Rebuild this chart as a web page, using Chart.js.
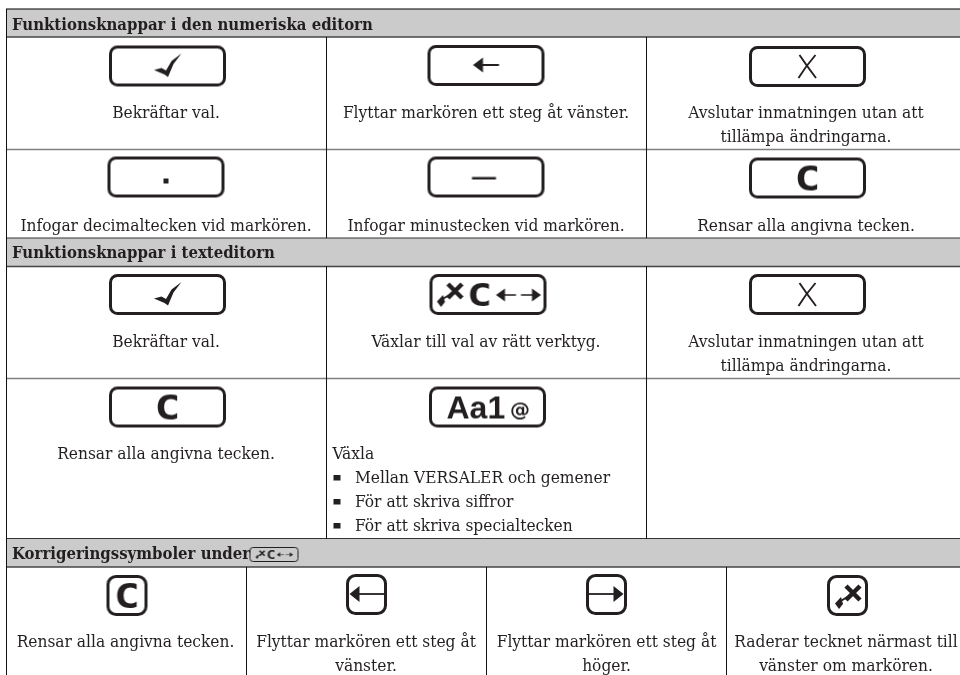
<!DOCTYPE html>
<html lang="sv">
<head>
<meta charset="utf-8">
<title>Funktionsknappar</title>
<script src="https://cdn.jsdelivr.net/npm/chart.js@4"></script>
<style>
  html, body { margin: 0; background: #fff; }
  canvas { display: block; }
</style>
</head>
<body>
<canvas id="tabell" width="960" height="675"></canvas>
<script>
// ===== INNEHÅLL =====
const sectionTitles = [
  "Funktionsknappar i den numeriska editorn",
  "Funktionsknappar i texteditorn",
  "Korrigeringssymboler under"
];
const captions = [
  ["Bekräftar val."],
  ["Flyttar markören ett steg åt vänster."],
  ["Avslutar inmatningen utan att", "tillämpa ändringarna."],
  ["Infogar decimaltecken vid markören."],
  ["Infogar minustecken vid markören."],
  ["Rensar alla angivna tecken."],
  ["Bekräftar val."],
  ["Växlar till val av rätt verktyg."],
  ["Avslutar inmatningen utan att", "tillämpa ändringarna."],
  ["Rensar alla angivna tecken."],
  ["Rensar alla angivna tecken."],
  ["Flyttar markören ett steg åt", "vänster."],
  ["Flyttar markören ett steg åt", "höger."],
  ["Raderar tecknet närmast till", "vänster om markören."]
];
const listHeading = "Växla";
const listItems = ["Mellan VERSALER och gemener", "För att skriva siffror", "För att skriva specialtecken"];

// ===== LAYOUT (tabellens enheter) =====
const bandTop = [9, 238, 538.5];
const bandBottom = [37, 266.5, 567];
const rowRules = [149.5, 378.5];
const sectionBaseline = [30, 258, 559];
const captionX = [166, 486, 806, 166, 486, 806, 166, 486, 806, 166, 125.5, 366, 606.5, 846];
const captionY = [118, 118, 118, 231, 231, 231, 347, 347, 347, 459, 647, 647, 647, 647];
const iconNames = ["check", "left", "cross", "dot", "minus", "clear", "check", "combo", "cross", "clear", "case",
  "clearSquare", "backSquare", "forwardSquare", "deleteSquare", "comboSmall"];
const iconX = [167.5, 486, 807.5, 166, 486, 807.5, 167.5, 488, 807.5, 167.5, 487.5, 127, 366.5, 606.5, 847.5, 274];
const iconY = [66, 65.5, 66.5, 177, 177, 178, 294.5, 294.5, 294.5, 407, 407, 595.5, 594.5, 594.5, 595.5, 554.5];
const ink = "#231f20";

// ===== IKONER =====
function arrowHead(c, x, y, dir, len, half) {
  c.beginPath();
  c.moveTo(x, y);
  c.lineTo(x + dir * len, y - half);
  c.lineTo(x + dir * len, y + half);
  c.closePath();
  c.fill();
}

function deleteGlyph(c, x, y) {
  // x,y = mitten av krysset
  c.lineWidth = 4.5;
  c.beginPath();
  c.moveTo(x - 7, y - 7); c.lineTo(x + 7, y + 7);
  c.moveTo(x + 7, y - 7); c.lineTo(x - 7, y + 7);
  c.stroke();
  c.lineWidth = 2;
  c.beginPath();
  c.moveTo(x - 4, y + 3); c.lineTo(x - 14, y + 9);
  c.stroke();
  c.beginPath();
  c.moveTo(x - 18, y + 10.5); c.lineTo(x - 12, y + 4); c.lineTo(x - 10, y + 11); c.lineTo(x - 14, y + 16);
  c.closePath();
  c.fill();
}

// breddad C, tjockare än typsnittets egen
function wideC(c, x, y, size) {
  c.save();
  c.translate(x, y);
  c.scale(1.3, 1);
  c.font = "bold " + size + "px 'DejaVu Sans Mono'";
  c.textAlign = "center";
  c.textBaseline = "alphabetic";
  c.fillText("C", 0, 0);
  c.restore();
}

function comboGlyph(c) {
  deleteGlyph(c, -33, -3.5);
  wideC(c, -8.5, 11.5, 32);
  c.lineWidth = 1.6;
  c.beginPath();
  c.moveTo(12, 0.5); c.lineTo(28, 0.5);
  c.moveTo(33, 0.5); c.lineTo(48, 0.5);
  c.stroke();
  arrowHead(c, 8, 0.5, 1, 9, 6.5);
  arrowHead(c, 53, 0.5, -1, 9, 6.5);
}

const iconGlyphs = {
  check(c) {
    c.beginPath();
    c.moveTo(-13.5, 4); c.lineTo(-6, 2); c.lineTo(-1.5, 4.5); c.lineTo(4, -5); c.lineTo(14, -12.5);
    c.lineTo(6, -2); c.lineTo(0.5, 11); c.lineTo(-3, 8.5);
    c.closePath();
    c.fill();
  },
  left(c) {
    c.lineWidth = 2;
    c.beginPath();
    c.moveTo(-6, -0.5); c.lineTo(13, -0.5);
    c.stroke();
    arrowHead(c, -13, -0.5, 1, 10, 7.5);
  },
  cross(c) {
    c.lineWidth = 1.9;
    c.beginPath();
    c.moveTo(-8, -11.5); c.quadraticCurveTo(-1, -1, 8.5, 11.5);
    c.moveTo(8, -11.5); c.quadraticCurveTo(-2, 0, -9, 11.5);
    c.stroke();
  },
  dot(c) { c.fillRect(-2.5, 1.5, 5, 5); },
  minus(c) { c.fillRect(-14, 0, 24, 2.5); },
  clear(c) { wideC(c, 0, 12, 33); },
  combo: comboGlyph,
  case(c) {
    c.textBaseline = "alphabetic";
    c.textAlign = "left";
    c.font = "bold 32px 'Liberation Sans'";
    c.fillText("Aa1", -41, 11.5);
    c.font = "bold 20px 'DejaVu Sans'";
    c.fillText("@", 22.5, 9.5);
  }
};

function makeIcon(name) {
  const square = name.endsWith("Square");
  const small = name === "comboSmall";
  const w = small ? 49 : square ? 41 : 117;
  const h = small ? 15 : 41;
  const sheet = document.createElement("canvas");
  sheet.width = w + 4;
  sheet.height = h + 4;
  const c = sheet.getContext("2d");
  c.translate(sheet.width / 2, sheet.height / 2);
  c.strokeStyle = ink;
  c.fillStyle = ink;
  c.lineWidth = small ? 1 : 3;
  c.beginPath();
  c.roundRect(-w / 2 + (small ? 0.5 : 1.5), -h / 2 + (small ? 0.5 : 1.5), w - (small ? 1 : 3), h - (small ? 1 : 3), small ? 3 : square ? 8 : 7);
  c.stroke();

  if (small) {
    c.scale(0.36, 0.36);
    comboGlyph(c);
  } else if (name === "clearSquare") {
    iconGlyphs.clear(c);
  } else if (name === "backSquare" || name === "forwardSquare") {
    if (name === "forwardSquare") c.scale(-1, 1);
    c.lineWidth = 1.8;
    c.beginPath();
    c.moveTo(-8, -0.5); c.lineTo(19, -0.5);
    c.stroke();
    arrowHead(c, -17, -0.5, 1, 10, 8);
  } else if (name === "deleteSquare") {
    deleteGlyph(c, 5.5, -2.5);
  } else {
    iconGlyphs[name](c);
  }
  return sheet;
}

// ===== TEXT =====
const tableText = {
  id: "tableText",
  afterDatasetsDraw(chart) {
    const { ctx, scales: { x, y } } = chart;
    const bodyFont = "17.2px 'DejaVu Serif Condensed', 'DejaVu Serif'";
    ctx.save();
    ctx.fillStyle = ink;
    ctx.textBaseline = "alphabetic";

    ctx.font = "bold 16.6px 'DejaVu Serif Condensed', 'DejaVu Serif'";
    ctx.textAlign = "left";
    sectionTitles.forEach((t, i) => ctx.fillText(t, x.getPixelForValue(12), y.getPixelForValue(sectionBaseline[i])));

    ctx.font = bodyFont;
    ctx.textAlign = "center";
    captions.forEach((lines, i) => {
      lines.forEach((line, n) => {
        ctx.fillText(line, x.getPixelForValue(captionX[i]), y.getPixelForValue(captionY[i] + n * 24));
      });
    });

    ctx.textAlign = "left";
    ctx.fillText(listHeading, x.getPixelForValue(332.5), y.getPixelForValue(459));
    listItems.forEach((item, i) => {
      const base = 483 + i * 24;
      ctx.fillText(item, x.getPixelForValue(355), y.getPixelForValue(base));
      ctx.fillRect(x.getPixelForValue(333.5), y.getPixelForValue(base - 8), 7, 5.5);
    });
    ctx.restore();
  }
};

// ===== DATASETS =====
const rule = (x1, y1, x2, y2, color, width) => ({
  data: [{ x: x1, y: y1 }, { x: x2, y: y2 }],
  showLine: true, pointRadius: 0, borderColor: color, borderWidth: width
});

const rules = [
  rule(6, 9, 960, 9, "#000", 1),
  rule(6.5, 9, 6.5, 675, "#111", 1),
  rule(326.5, 37, 326.5, 238, "#111", 1),
  rule(646.5, 37, 646.5, 238, "#111", 1),
  rule(326.5, 266.5, 326.5, 538.5, "#111", 1),
  rule(646.5, 266.5, 646.5, 538.5, "#111", 1),
  rule(246.5, 567, 246.5, 675, "#111", 1),
  rule(486.5, 567, 486.5, 675, "#111", 1),
  rule(726.5, 567, 726.5, 675, "#111", 1)
];
bandTop.forEach((v) => { if (v > 9) rules.push(rule(6.5, v, 960, v, "#333", 1)); });
bandBottom.forEach((v) => rules.push(rule(6.5, v, 960, v, "#444", 1.4)));
rowRules.forEach((v) => rules.push(rule(6.5, v, 960, v, "#808080", 1.5)));

const bands = bandTop.map((top, i) => ({
  data: [{ x: 6.5, y: top }, { x: 960, y: top }],
  showLine: true, pointRadius: 0, borderWidth: 0,
  fill: { value: bandBottom[i] },
  backgroundColor: "#cbcbcb"
}));

const icons = {
  data: iconNames.map((n, i) => ({ x: iconX[i], y: iconY[i] })),
  showLine: false,
  pointStyle: iconNames.map(makeIcon),
  pointRadius: 10
};

new Chart(document.getElementById("tabell"), {
  type: "scatter",
  data: { datasets: [icons, ...rules, ...bands] }, // första datasetet ritas överst
  options: {
    responsive: false,
    animation: false,
    devicePixelRatio: 1,
    layout: { padding: 0, autoPadding: false },
    plugins: { legend: { display: false }, tooltip: { enabled: false } },
    scales: {
      x: { type: "linear", display: false, min: 0, max: 960 },
      y: { type: "linear", display: false, min: 0, max: 675, reverse: true }
    }
  },
  plugins: [tableText]
});
</script>
</body>
</html>
